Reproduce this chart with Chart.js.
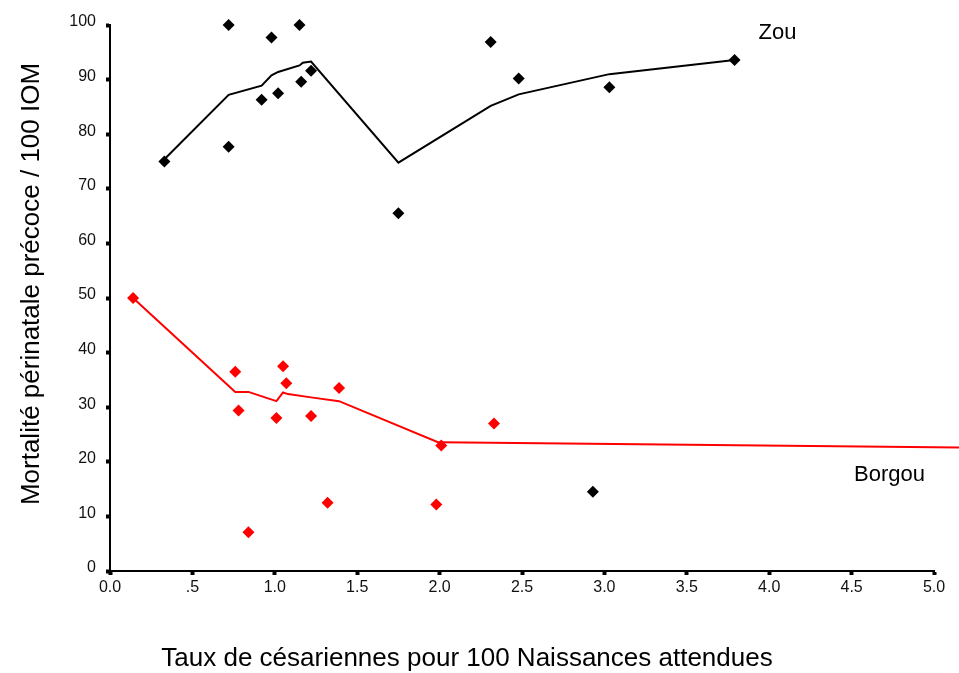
<!DOCTYPE html>
<html>
<head>
    <title>Mortalité périnatale précoce</title>
    <script src="https://cdn.jsdelivr.net/npm/chart.js"></script>
    <style>
        body {
            margin: 0;
            background-color: white;
        }
        .chart-box {
            width: 959px;
            height: 673px;
        }
    </style>
</head>
<body>
    <div class="chart-box">
        <canvas id="mortChart"></canvas>
    </div>

    <script>
        // Zou (black) points
        const zouX = [0.33, 0.72, 0.72, 0.92, 0.98, 1.02, 1.15, 1.16, 1.22, 1.75, 2.31, 2.48, 2.93, 3.03, 3.79];
        const zouY = [75.0, 100, 77.7, 86.3, 97.7, 87.5, 100, 89.6, 91.6, 65.5, 96.9, 90.2, 14.5, 88.6, 93.6];
        // Zou fitted curve
        const zouFitX = [0.33, 0.72, 0.92, 0.98, 1.02, 1.15, 1.17, 1.22, 1.75, 2.31, 2.48, 3.03, 3.79];
        const zouFitY = [75.4, 87.2, 88.9, 90.8, 91.4, 92.6, 93.1, 93.3, 74.8, 85.2, 87.3, 91.0, 93.6];

        // Borgou (red) points
        const borgouX = [0.14, 0.76, 0.78, 0.84, 1.01, 1.05, 1.07, 1.22, 1.32, 1.39, 1.98, 2.01, 2.33];
        const borgouY = [50.0, 36.5, 29.4, 7.1, 28.0, 37.5, 34.4, 28.4, 12.5, 33.5, 12.2, 23.0, 27.0];
        // Borgou fitted curve
        const borgouFitX = [0.14, 0.76, 0.84, 1.01, 1.05, 1.08, 1.22, 1.39, 1.99, 2.01, 5.2];
        const borgouFitY = [50.0, 32.8, 32.8, 31.1, 32.7, 32.4, 31.8, 31.1, 23.6, 23.6, 22.6];

        const xTicks = [0, 0.5, 1, 1.5, 2, 2.5, 3, 3.5, 4, 4.5, 5];
        const xTickLabels = ['0.0', '.5', '1.0', '1.5', '2.0', '2.5', '3.0', '3.5', '4.0', '4.5', '5.0'];
        const yTicks = [0, 10, 20, 30, 40, 50, 60, 70, 80, 90, 100];

        const xTitle = 'Taux de césariennes pour 100 Naissances attendues';
        const yTitle = 'Mortalité périnatale précoce / 100 IOM';

        // Region names placed in data coordinates
        const regionLabels = [
            { text: 'Zou', x: 4.05, y: 98.5 },
            { text: 'Borgou', x: 4.73, y: 17.6 }
        ];

        function toPoints(xs, ys) {
            return xs.map((x, i) => ({ x: x, y: ys[i] }));
        }

        const fontFamily = "'Liberation Sans', Arial, sans-serif";
        const tickFont = { family: fontFamily, size: 16 };

        // axis titles and region names
        const textPlugin = {
            id: 'chartTexts',
            afterDraw(chart) {
                const ctx = chart.ctx;
                const xs = chart.scales.x;
                const ys = chart.scales.y;
                ctx.save();
                ctx.fillStyle = '#000';
                ctx.textAlign = 'center';
                ctx.textBaseline = 'middle';

                ctx.font = '22px ' + fontFamily;
                regionLabels.forEach(l => {
                    ctx.fillText(l.text, xs.getPixelForValue(l.x), ys.getPixelForValue(l.y));
                });

                ctx.font = '26px ' + fontFamily;
                ctx.fillText(xTitle, 467, 659);

                ctx.translate(32, 284);
                ctx.rotate(-Math.PI / 2);
                ctx.fillText(yTitle, 0, 0);
                ctx.restore();
            }
        };

        const ctx = document.getElementById('mortChart').getContext('2d');
        const chart = new Chart(ctx, {
            type: 'scatter',
            data: {
                datasets: [
                    {
                        label: 'Zou fit',
                        type: 'line',
                        data: toPoints(zouFitX, zouFitY),
                        borderColor: '#000',
                        borderWidth: 2,
                        pointRadius: 0,
                        fill: false,
                        tension: 0
                    },
                    {
                        label: 'Borgou fit',
                        type: 'line',
                        data: toPoints(borgouFitX, borgouFitY),
                        borderColor: '#ff0000',
                        borderWidth: 2,
                        pointRadius: 0,
                        fill: false,
                        tension: 0,
                        clip: false
                    },
                    {
                        label: 'Zou',
                        data: toPoints(zouX, zouY),
                        pointStyle: 'rectRot',
                        pointRadius: 6,
                        backgroundColor: '#000',
                        borderColor: '#000',
                        borderWidth: 0,
                        clip: false
                    },
                    {
                        label: 'Borgou',
                        data: toPoints(borgouX, borgouY),
                        pointStyle: 'rectRot',
                        pointRadius: 6,
                        backgroundColor: '#ff0000',
                        borderColor: '#ff0000',
                        borderWidth: 0,
                        clip: false
                    }
                ]
            },
            options: {
                responsive: true,
                maintainAspectRatio: false,
                animation: false,
                layout: {
                    padding: { top: 25, right: 25, left: 0, bottom: 0 }
                },
                plugins: {
                    legend: { display: false },
                    tooltip: { enabled: false }
                },
                scales: {
                    x: {
                        type: 'linear',
                        min: 0,
                        max: 5,
                        afterBuildTicks: scale => {
                            scale.ticks = xTicks.map(v => ({ value: v }));
                        },
                        afterFit: scale => { scale.height = 102; },
                        ticks: {
                            color: '#111',
                            font: tickFont,
                            padding: 3,
                            maxRotation: 0,
                            callback: v => xTickLabels[xTicks.indexOf(v)]
                        },
                        grid: {
                            drawOnChartArea: false,
                            color: '#000',
                            tickLength: 4,
                            tickWidth: 4
                        },
                        border: { display: true, color: '#000', width: 2 }
                    },
                    y: {
                        type: 'linear',
                        min: 0,
                        max: 100,
                        afterBuildTicks: scale => {
                            scale.ticks = yTicks.map(v => ({ value: v }));
                        },
                        afterFit: scale => { scale.width = 110; },
                        ticks: {
                            color: '#111',
                            font: tickFont,
                            padding: 10,
                            labelOffset: -3
                        },
                        grid: {
                            drawOnChartArea: false,
                            color: '#000',
                            tickLength: 4,
                            tickWidth: 4
                        },
                        border: { display: true, color: '#000', width: 2 }
                    }
                }
            },
            plugins: [textPlugin]
        });
    </script>
</body>
</html>
